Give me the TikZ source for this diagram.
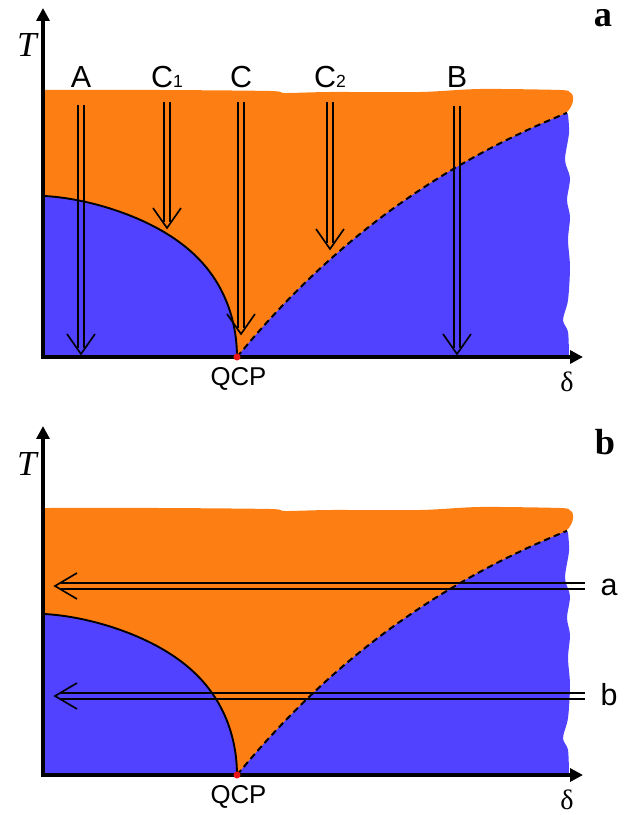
\documentclass[tikz,border=0pt]{standalone}
\usepackage{fontspec}
\setmainfont{Liberation Serif}
\setsansfont{Liberation Sans}
\usetikzlibrary{arrows.meta}
\definecolor{PhOrange}{RGB}{253,127,20}
\definecolor{PhBlue}  {RGB}{80,66,255}
\definecolor{QcpRed}  {RGB}{235,20,20}
\tikzset{
  ax/.style={line width=3pt,line join=miter,{Triangle[length=11pt,width=11pt]}-{Triangle[length=11pt,width=11pt]}},
  bnd_solid/.style={line width=1.6pt,line join=round},
  bnd_dash/.style={line width=1.7pt,dash pattern=on 5.5pt off 3.5pt},
  dbl/.style={line width=1.4pt},
  lbl/.style={font=\sffamily\fontsize{26}{26}\selectfont,anchor=base,inner sep=0pt},
  lbl_s/.style={font=\sffamily\fontsize{22}{22}\selectfont,anchor=base,inner sep=0pt},
  lbl_T/.style={font=\itshape\fontsize{30}{30}\selectfont,anchor=base,inner sep=0pt},
  lbl_d/.style={font=\fontsize{24}{24}\selectfont,anchor=base,inner sep=0pt},
  lbl_p/.style={font=\bfseries\fontsize{31}{31}\selectfont,anchor=base,inner sep=0pt},
}
\newcommand{\lowidx}[1]{\raisebox{-0.5pt}{\fontsize{15}{15}\selectfont#1}}
% double shaft, open head (downwards)
\newcommand{\vdbl}[2]{%
  \draw[dbl]([shift={(-3.3,0)}]#1)--([shift={(-3.3,-6)}]#2)
            ([shift={(3.3,0)}]#1)--([shift={(3.3,-6)}]#2);
  \draw[dbl]([shift={(-14,-20)}]#2)--(#2)--([shift={(14,-20)}]#2);}
% double shaft, open head (leftwards)
\newcommand{\hdbl}[2]{%
  \draw[dbl]([shift={(0,-3.2)}]#1)--([shift={(6,-3.2)}]#2)
            ([shift={(0,3.2)}]#1)--([shift={(6,3.2)}]#2);
  \draw[dbl]([shift={(22,-13)}]#2)--(#2)--([shift={(22,13)}]#2);}
% one phase diagram, #1 = vertical offset, #2 = name suffix
\newcommand{\phasepanel}[2]{%
\begin{scope}[shift={(0,#1)}]
  \fill[PhOrange](45,357)--plot[smooth] coordinates{(45,90)(160,90)(270,91)(285,93)(330,92)(420,92)(480,89)(560,90)(569,92)}
    ..controls(575,93)and(575,105)..(566,113)--(562,125)--(562,357)--cycle;
  \fill[PhBlue](45,357)--plot[domain=-90:0,samples=70]({45+192*cos(\x)},{357+161*sin(\x)+3*sin(4*\x)})--cycle;
  \fill[PhBlue](237,357)--plot[domain=0:330,samples=60]({237+\x},{357-366*(1-exp(-\x/300))})
    --plot[smooth] coordinates{(568,115)(569,133)(565,160)(570,178)(567,200)(570,217)(568,240)(570,267)(568,300)(563,320)(568,332)(569,357)}--cycle;
  % phase boundaries
  \draw[bnd_solid] plot[domain=-90:0,samples=70]({45+192*cos(\x)},{357+161*sin(\x)+3*sin(4*\x)});
  \draw[bnd_dash] plot[domain=0:330,samples=60]({237+\x},{357-366*(1-exp(-\x/300))});
  % axes
  \coordinate (o#2) at (43,357);
  \coordinate (ytop#2) at (43,8);
  \coordinate (xend#2) at (583,357);
  \draw[ax](ytop#2)--(o#2)--(xend#2);
  \node[lbl_T] (T#2) at (27,57) {T};
  \node[lbl_d] (delta#2) at (567,391) {δ};
  \coordinate (qcp#2) at (237,357);
  \fill[QcpRed](qcp#2) circle[radius=3pt];
  \node[lbl_s] (qcplbl#2) at (238.5,385) {QCP};
\end{scope}}

\begin{document}
\begin{tikzpicture}[x=0.03cm,y=-0.03cm]
\useasboundingbox (0,0) rectangle (632,815);
\phasepanel{0}{a}
\phasepanel{418}{b}
\node[lbl_p] (pa) at (603,27) {a};
\node[lbl_p] (pb) at (605,454) {b};
% panel a: cuts at fixed doping
\foreach \n/\x/\ya/\yb/\t in {A/81/105/354/A, Ca/167/102/228/C\lowidx{1}, C/241/102/334/C, Cb/330/102/249/C\lowidx{2}, B/457/106/354/B}{
  \coordinate (\n top) at (\x,\ya);
  \coordinate (\n tip) at (\x,\yb);
  \node[lbl] (\n lbl) at (\x,87) {\t};
  \vdbl{\n top}{\n tip}
}
% panel b: cuts at fixed temperature
\foreach \n/\y in {a/586,b/696}{
  \coordinate (h\n start) at (585,\y);
  \coordinate (h\n tip) at (55,\y);
  \node[lbl] (h\n lbl) at (609,\y+9) {\n};
  \hdbl{h\n start}{h\n tip}
}
\end{tikzpicture}
\end{document}
